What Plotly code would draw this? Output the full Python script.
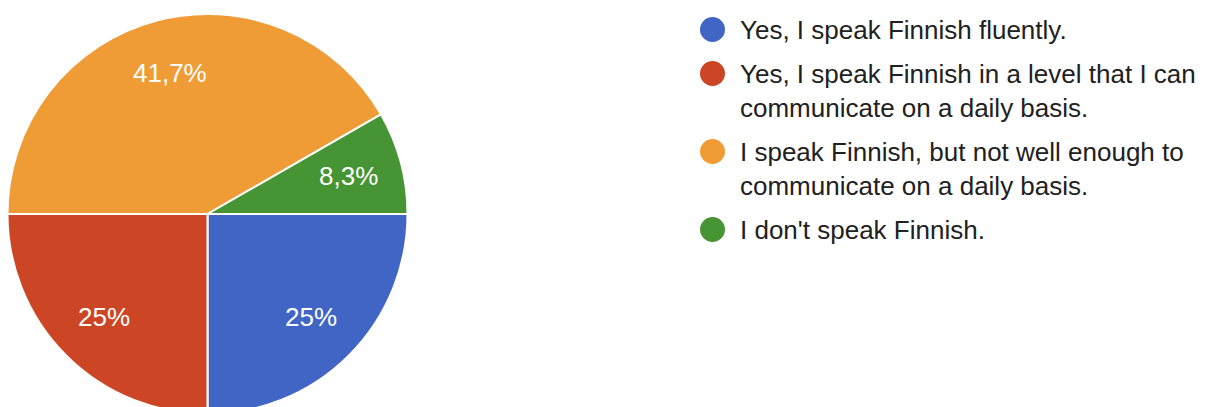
import math
import plotly.graph_objects as go

# Survey answers and their share of responses (percent)
answers = [
    "Yes, I speak Finnish fluently.",
    "Yes, I speak Finnish in a level that I can<br>communicate on a daily basis.",
    "I speak Finnish, but not well enough to<br>communicate on a daily basis.",
    "I don't speak Finnish.",
]
shares = [25, 25, 41.7, 8.3]
colors = ["#4065C5", "#CC4626", "#F09C36", "#469433"]

W, H = 1209, 428
FONT = "Liberation Sans, Arial, sans-serif"

# Pie geometry (px): centre and radius
cx, cy, R = 207.5, 214, 200
start_deg = 90  # first slice starts at 3 o'clock, going clockwise

# Percent labels with a decimal comma
labels_txt = [f"{v:g}".replace(".", ",") + "%" for v in shares]

fig = go.Figure(
    go.Pie(
        labels=answers,
        values=shares,
        textinfo="none",
        marker=dict(colors=colors, line=dict(color="white", width=2)),
        sort=False,
        direction="clockwise",
        rotation=start_deg,
        showlegend=False,
        hoverinfo="label+percent",
        domain=dict(x=[(cx - R) / W, (cx + R) / W], y=[1 - (cy + R) / H, 1 - (cy - R) / H]),
    )
)

# Percent labels placed along each slice's bisector
total = sum(shares)
acc = 0.0
for v, txt in zip(shares, labels_txt):
    mid = start_deg + 360 * (acc + v / 2) / total   # degrees clockwise from 12 o'clock
    acc += v
    a = math.radians(mid)
    px = cx + 0.73 * R * math.sin(a)
    py = cy - 0.73 * R * math.cos(a)
    fig.add_annotation(
        x=px / W, y=1 - py / H, xref="paper", yref="paper",
        xanchor="center", yanchor="middle", text=txt, showarrow=False,
        font=dict(family=FONT, size=26, color="white"),
    )

# Legend drawn as circles and wrapped text to the right of the pie
leg_x = 700          # left edge of legend circles, px
dot = 25             # circle diameter, px
text_x = 739         # left edge of legend text, px
line_h = 34          # line height of wrapped text, px
item_gap = 44        # distance from last baseline of one item to first baseline of next
fs = 26

baseline = 37
for name, col in zip(answers, colors):
    n_lines = name.count("<br>") + 1
    dy = baseline - 7.5
    fig.add_shape(
        type="circle", xref="paper", yref="paper",
        x0=leg_x / W, x1=(leg_x + dot) / W,
        y0=1 - (dy + dot / 2) / H, y1=1 - (dy - dot / 2) / H,
        fillcolor=col, line=dict(width=0),
    )
    fig.add_annotation(
        x=text_x / W, y=1 - (baseline - 0.8 * fs - 2) / H,
        xref="paper", yref="paper", xanchor="left", yanchor="top",
        text=name, showarrow=False, align="left",
        font=dict(family=FONT, size=fs, color="#212121"),
        borderpad=0,
    )
    baseline += (n_lines - 1) * line_h + item_gap

fig.update_layout(
    width=W, height=H,
    margin=dict(l=0, r=0, t=0, b=0),
    paper_bgcolor="white", plot_bgcolor="white",
)

fig.write_html(
    "out.html",
    post_script="document.body.style.margin='0';document.body.style.overflow='hidden';"
                "document.documentElement.style.overflow='hidden';",
)
